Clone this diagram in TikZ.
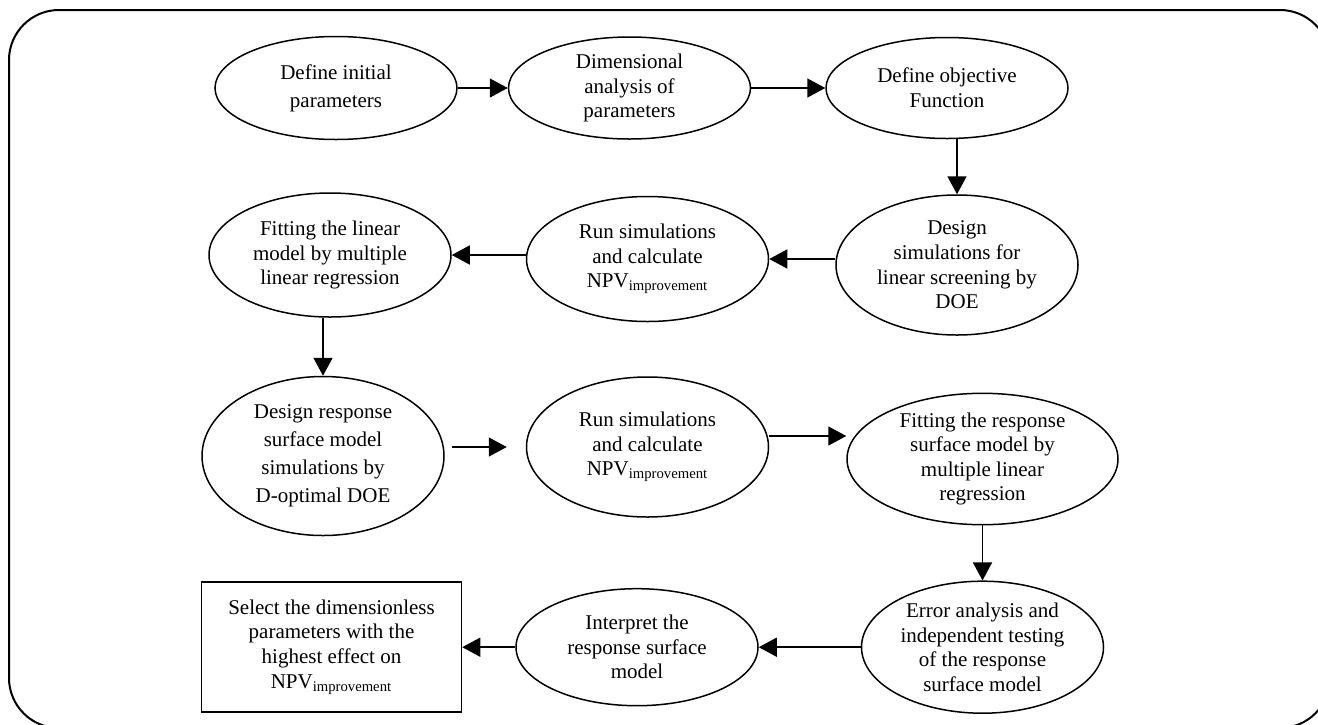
\documentclass[tikz,border=0pt]{standalone}
\usepackage{fontspec}
\setmainfont{Liberation Serif}
\usetikzlibrary{arrows.meta, shapes, positioning, calc}

\begin{document}
\begin{tikzpicture}
            [->, >={Triangle[length=9pt,width=9.5pt]}, line width=0.75pt,
            stage/.style={ellipse, align=center, draw=black, inner sep=0pt,
                minimum width=121pt, font=\fontsize{10.5}{12.3}\selectfont},
            outcome/.style={rectangle, align=center, draw=black, inner sep=0pt,
                minimum width=130pt, minimum height=65pt, font=\fontsize{10.5}{12.3}\selectfont}]

            \useasboundingbox (0,0) rectangle (659pt,-362pt);
            \draw[-, line width=1pt, rounded corners=25pt] (4.5pt,-5pt) rectangle (665pt,-364pt);

            % first row
            \node[stage,minimum height=51.5pt,font=\fontsize{10.5}{14}\selectfont] (init) at (168pt,-44pt) {Define initial\\parameters};
            \node[stage,minimum height=51pt] (dim) [right = 25pt of init] {Dimensional\\analysis of\\parameters};
            \node[stage,minimum height=50.5pt] (obj) [right = 37pt of dim] {Define objective\\Function};

            % second row
            \node[stage,minimum height=70pt] (dsim) [below = 27.5pt of obj, xshift=5pt] {Design\\simulations for\\linear screening by\\DOE};
            \node[stage,minimum height=62.5pt] (run1) [left = 33pt of dsim, yshift=3pt] {Run simulations\\and calculate\\NPV\textsubscript{improvement}};
            \node[stage,minimum height=62pt] (fitlin) [left = 37pt of run1, yshift=2pt] {Fitting the linear\\model by multiple\\linear regression};

            % third row
            \node[stage,minimum height=79.5pt,font=\fontsize{10.5}{14}\selectfont] (resp) [below = 29pt of fitlin, xshift=-3.5pt] {Design response\\surface model\\simulations by\\D-optimal DOE};
            \node[stage,minimum height=70pt] (run2) [right = 40.5pt of resp, yshift=4.5pt] {Run simulations\\and calculate\\NPV\textsubscript{improvement}};
            \node[stage,minimum width=135.5pt,minimum height=65.5pt] (fitresp) [right = 38.5pt of run2, yshift=-6pt] {Fitting the response\\surface model by\\multiple linear\\regression};

            % last row
            \node[stage,minimum height=66pt] (err) [below = 27.5pt of fitresp] {Error analysis and\\independent testing\\of the response\\surface model};
            \node[stage,minimum height=58.5pt] (interp) [left = 51pt of err] {Interpret the\\response surface\\model};
            \node[outcome] (sel) [left = 26.5pt of interp] {Select the dimensionless\\parameters with the\\highest effect on\\NPV\textsubscript{improvement}};

            \draw (init) edge (dim);
            \draw (dim) edge (obj);
            \draw (obj.south -| dsim) -- (dsim.north);
            \draw (dsim.west |- run1) -- (run1.east);
            \draw (run1.west |- fitlin) -- (fitlin.east);
            \draw (fitlin.south -| resp) -- (resp.north);
            \draw[shorten <=3.5pt, shorten >=9.5pt] (resp.east |- run2) -- (run2.west);
            \draw ([yshift=5.5pt]run2.east) -- ([yshift=5.5pt]run2.east -| fitresp.west);
            \draw (fitresp) edge (err);
            \draw (err) edge (interp);
            \draw (interp) edge (sel);
        \end{tikzpicture}
\end{document}
